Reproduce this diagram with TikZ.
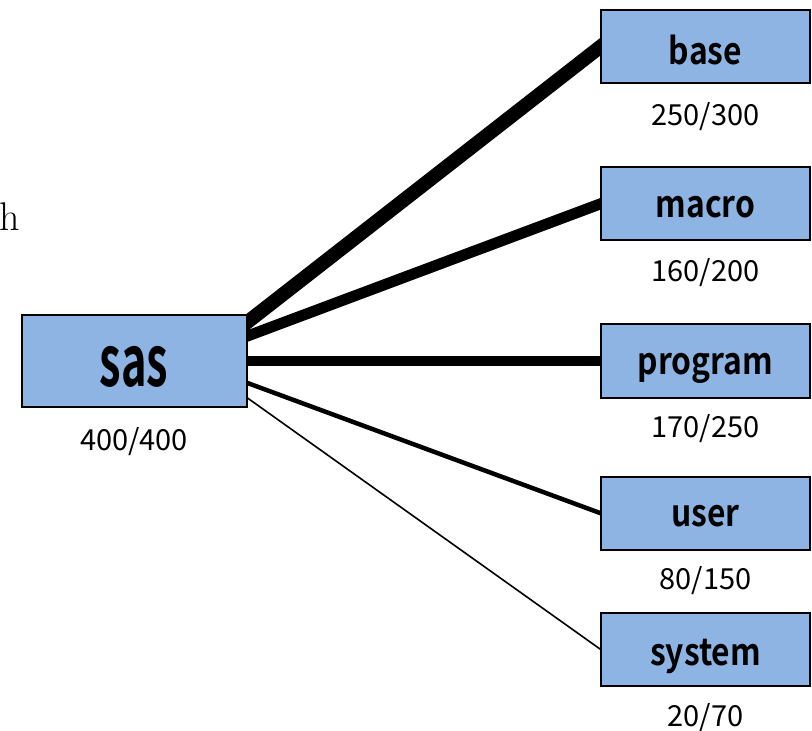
\documentclass[tikz,border=0pt]{standalone}
\usepackage{fontspec}
\usetikzlibrary{backgrounds}
\newfontfamily\boxfont{Noto Sans CJK KR Bold}
\newfontfamily\numfont{Noto Sans CJK KR}
\definecolor{boxblue}{RGB}{141,180,226}
% condensed bold label inside a box: #1 horizontal scale, #2 font size, #3 drop, #4 text
\newcommand\boxlbl[4]{\raisebox{-#3}[\height][0pt]{\scalebox{#1}[1]{\boxfont\fontsize{#2}{#2}\selectfont #4}}}
\begin{document}
\begin{tikzpicture}[x=0.5pt,y=-0.5pt,
  box/.style={draw=black, line width=1pt, fill=boxblue,
    minimum width=104.5pt, minimum height=36.5pt, inner sep=0pt},
  bigbox/.style={box, minimum width=112.5pt, minimum height=45.5pt},
  count/.style={font=\numfont\fontsize{14.5}{16}\selectfont, inner sep=0pt},
  link/.style={draw=black, line cap=butt, shorten <=-6pt, shorten >=-6pt}]
\useasboundingbox (0,0) rectangle (812,731);

% stray glyph at the left margin
\node[font=\rmfamily\fontsize{20}{20}\selectfont, inner sep=0pt, anchor=base west] (hh) at (-1,231) {h};

% root
\node[bigbox] (sas) at (134,361) {\boxlbl{0.62}{35}{2.5pt}{sas}};
\node[count] (nsas) at ([yshift=-17pt]sas.south) {400/400};

% children
\node[box] (base)    at (705.5,47)  {\boxlbl{0.86}{18.5}{1.5pt}{base}};
\node[box] (macro)   at (705.5,204) {\boxlbl{0.86}{18.5}{1.5pt}{macro}};
\node[box] (program) at (705.5,361) {\boxlbl{0.86}{18.5}{1.5pt}{program}};
\node[box] (user)    at (705.5,513) {\boxlbl{0.86}{18.5}{1.5pt}{user}};
\node[box] (system)  at (705.5,649) {\boxlbl{0.86}{18.5}{1.5pt}{system}};

\node[count] (nbase)    at ([yshift=-16pt]base.south)      {250/300};
\node[count] (nmacro)   at ([yshift=-15.5pt]macro.south)   {160/200};
\node[count] (nprogram) at ([yshift=-15pt]program.south)   {170/250};
\node[count] (nuser)    at ([yshift=-15pt]user.south)      {80/150};
\node[count] (nsystem)  at ([yshift=-15.5pt]system.south)  {20/70};

% links, width by share
\begin{scope}[on background layer]
  \draw[link, line width=7pt]    ([yshift=19.5pt]sas.east)  -- (base.west);
  \draw[link, line width=5.5pt]  ([yshift=12.5pt]sas.east)  -- (macro.west);
  \draw[link, line width=5pt]    (sas.east)                 -- (program.west);
  \draw[link, line width=2.25pt] ([yshift=-11pt]sas.east)   -- (user.west);
  \draw[link, line width=0.8pt]  ([yshift=-18.5pt]sas.east) -- (system.west);
\end{scope}
\end{tikzpicture}
\end{document}
